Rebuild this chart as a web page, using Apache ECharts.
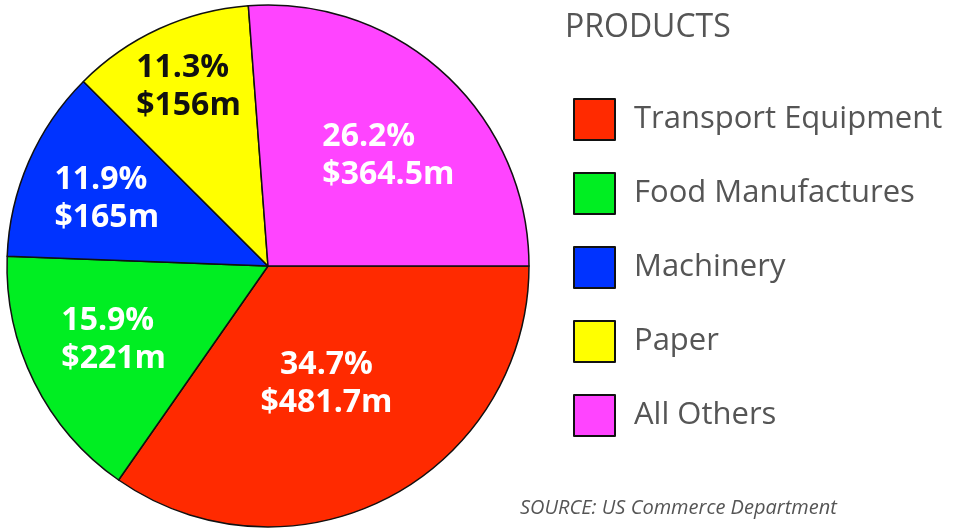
<!DOCTYPE html>
<html lang="en">
<head>
    <meta charset="UTF-8">
    <title>Products</title>
    <style>
        *{ margin:0; padding:0; box-sizing:border-box; }
        html, body{ width:100%; height:100%; background:#fff; }
        #myChart{ width:957px; height:529px; }
    </style>
</head>
<body>
<div id="myChart"></div>
<script src="https://cdn.jsdelivr.net/npm/echarts@6/dist/echarts.min.js"></script>
<script>
    // data
    var categories = ['Transport Equipment', 'Food Manufactures', 'Machinery', 'Paper', 'All Others'];
    var percents = [34.7, 15.9, 11.9, 11.3, 26.2];
    var amounts = ['$481.7m', '$221m', '$165m', '$156m', '$364.5m'];

    // styles
    var colors = ['#ff2a00', '#00ee22', '#0033ff', '#ffff00', '#ff44ff'];
    var labelColors = ['#fff', '#fff', '#fff', '#111', '#fff'];
    var labelAlign = ['center', 'left', 'left', 'left', 'left'];
    var labelDist = [0.505, 0.655, 0.669, 0.75, 0.626]; // fraction of radius for the label block centre
    var labelTurn = [1.2, 1.0, -1.0, 0.7, 4.6];          // degrees past the slice middle

    var cx = 268, cy = 266, R = 261;

    var total = percents.reduce(function (a, b) { return a + b; }, 0);
    var midAngles = [];
    var acc = 0;
    percents.forEach(function (v) {
        midAngles.push((acc + v / 2) / total * 360);
        acc += v;
    });

    var myChart = echarts.init(document.getElementById('myChart'));
    var option = {
        animation: false,
        color: colors,
        title: [
            {
                text: 'PRODUCTS',
                left: 560, top: 7,
                textStyle: { fontFamily: 'Open Sans', fontSize: 32, fontWeight: 'normal', color: '#555' }
            },
            {
                text: 'SOURCE: US Commerce Department',
                left: 515, top: 493,
                textStyle: { fontFamily: 'Open Sans', fontSize: 20, fontStyle: 'italic', fontWeight: 'normal', color: '#555' }
            }
        ],
        legend: {
            orient: 'vertical',
            left: 573, top: 98,
            padding: 0,
            icon: 'rect',
            itemWidth: 41, itemHeight: 41,
            itemGap: 31,
            itemStyle: { borderColor: '#111', borderWidth: 2 },
            textStyle: { fontFamily: 'Open Sans', fontSize: 31, color: '#555', padding: [0, 0, 0, 14] },
            data: categories
        },
        series: [
            {
                type: 'pie',
                center: [cx, cy],
                radius: R,
                startAngle: 0,
                clockwise: true,
                silent: true,
                itemStyle: { borderColor: '#111', borderWidth: 1.5 },
                label: {
                    show: true,
                    position: 'inside',
                    fontFamily: 'Open Sans',
                    fontWeight: 'bold',
                    fontSize: 32,
                    lineHeight: 38,
                    formatter: function (p) {
                        return percents[p.dataIndex].toFixed(1) + '%\n' + amounts[p.dataIndex];
                    }
                },
                labelLine: { show: false },
                labelLayout: function (p) {
                    var i = p.dataIndex;
                    var a = (midAngles[i] + labelTurn[i]) * Math.PI / 180;
                    var x = cx + Math.cos(a) * R * labelDist[i];
                    if (labelAlign[i] === 'left') x -= p.labelRect.width / 2;
                    return {
                        x: x,
                        y: cy + Math.sin(a) * R * labelDist[i],
                        align: labelAlign[i],
                        verticalAlign: 'middle'
                    };
                },
                data: categories.map(function (name, i) {
                    return {
                        name: name,
                        value: percents[i],
                        label: { color: labelColors[i] }
                    };
                })
            }
        ]
    };
    myChart.setOption(option);
</script>
</body>
</html>
